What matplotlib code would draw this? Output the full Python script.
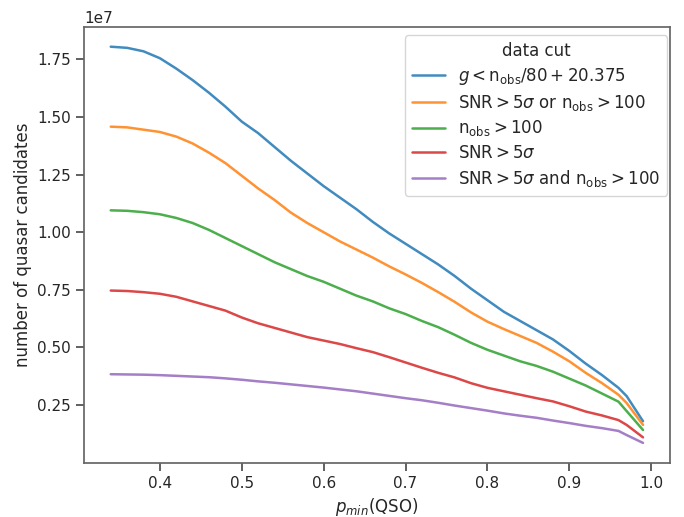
import numpy as np
import matplotlib
matplotlib.use("Agg")
import matplotlib.pyplot as plt
import seaborn as sns

# p_min(QSO) thresholds
p_min = [0.34, 0.36, 0.38, 0.40, 0.42, 0.44, 0.46, 0.48, 0.50, 0.52, 0.54, 0.56,
         0.58, 0.60, 0.62, 0.64, 0.66, 0.68, 0.70, 0.72, 0.74, 0.76, 0.78, 0.80,
         0.82, 0.84, 0.86, 0.88, 0.90, 0.92, 0.94, 0.96, 0.97, 0.99]

# number of candidates per data cut (units of 1e7)
n_gcut = [1.805, 1.800, 1.785, 1.755, 1.710, 1.660, 1.605, 1.545, 1.480, 1.430, 1.370, 1.310,
          1.255, 1.200, 1.150, 1.100, 1.045, 0.995, 0.950, 0.905, 0.860, 0.810, 0.755, 0.705,
          0.655, 0.615, 0.575, 0.535, 0.485, 0.430, 0.380, 0.325, 0.289, 0.180]
n_snr_or = [1.458, 1.455, 1.445, 1.435, 1.415, 1.385, 1.345, 1.300, 1.245, 1.190, 1.140, 1.085,
            1.040, 1.000, 0.960, 0.925, 0.890, 0.852, 0.817, 0.780, 0.740, 0.698, 0.652, 0.612,
            0.580, 0.550, 0.520, 0.482, 0.440, 0.390, 0.345, 0.295, 0.259, 0.164]
n_nobs = [1.095, 1.093, 1.087, 1.078, 1.062, 1.040, 1.010, 0.975, 0.940, 0.905, 0.870, 0.840,
          0.810, 0.785, 0.755, 0.725, 0.700, 0.670, 0.645, 0.615, 0.588, 0.555, 0.520, 0.490,
          0.465, 0.440, 0.420, 0.395, 0.365, 0.335, 0.300, 0.265, 0.224, 0.142]
n_snr = [0.747, 0.745, 0.740, 0.733, 0.720, 0.700, 0.680, 0.660, 0.630, 0.605, 0.585, 0.565,
         0.545, 0.530, 0.515, 0.497, 0.480, 0.458, 0.435, 0.412, 0.390, 0.370, 0.345, 0.325,
         0.310, 0.295, 0.280, 0.266, 0.245, 0.222, 0.205, 0.185, 0.164, 0.110]
n_snr_and = [0.384, 0.383, 0.382, 0.380, 0.377, 0.374, 0.371, 0.366, 0.360, 0.353, 0.347, 0.340,
             0.333, 0.326, 0.318, 0.310, 0.300, 0.290, 0.280, 0.271, 0.260, 0.248, 0.237, 0.226,
             0.214, 0.204, 0.195, 0.183, 0.172, 0.160, 0.150, 0.138, 0.120, 0.086]

labels = [r"$g<\mathrm{n_{obs}}/80+20.375$",
          r"$\mathrm{SNR}>5\sigma$ or $\mathrm{n_{obs}}>100$",
          r"$\mathrm{n_{obs}}>100$",
          r"$\mathrm{SNR}>5\sigma$",
          r"$\mathrm{SNR}>5\sigma$ and $\mathrm{n_{obs}}>100$"]
colors = ["tab:blue", "tab:orange", "tab:green", "tab:red", "tab:purple"]

sns.set_theme(style="ticks")
plt.rcParams["mathtext.fontset"] = "dejavusans"
plt.rcParams["axes.edgecolor"] = "0.4"
plt.rcParams["xtick.color"] = "0.3"
plt.rcParams["ytick.color"] = "0.3"
plt.rcParams["xtick.labelcolor"] = "0.15"
plt.rcParams["ytick.labelcolor"] = "0.15"

fig = plt.figure(figsize=(6.84, 5.17), dpi=100)
ax = fig.add_axes([0.123, 0.105, 0.856, 0.843])

for series, label, c in zip([n_gcut, n_snr_or, n_nobs, n_snr, n_snr_and], labels, colors):
    ax.plot(p_min, np.array(series) * 1e7, label=label, color=c, lw=1.8, alpha=0.85)

ax.set_xlabel(r"$p_{min}$(QSO)")
ax.set_ylabel("number of quasar candidates")
ax.legend(title="data cut", loc="upper right", fontsize=12, title_fontsize=12,
          labelspacing=0.35, bbox_to_anchor=(1.01, 1.0))

fig.savefig("out.png", dpi=100)
